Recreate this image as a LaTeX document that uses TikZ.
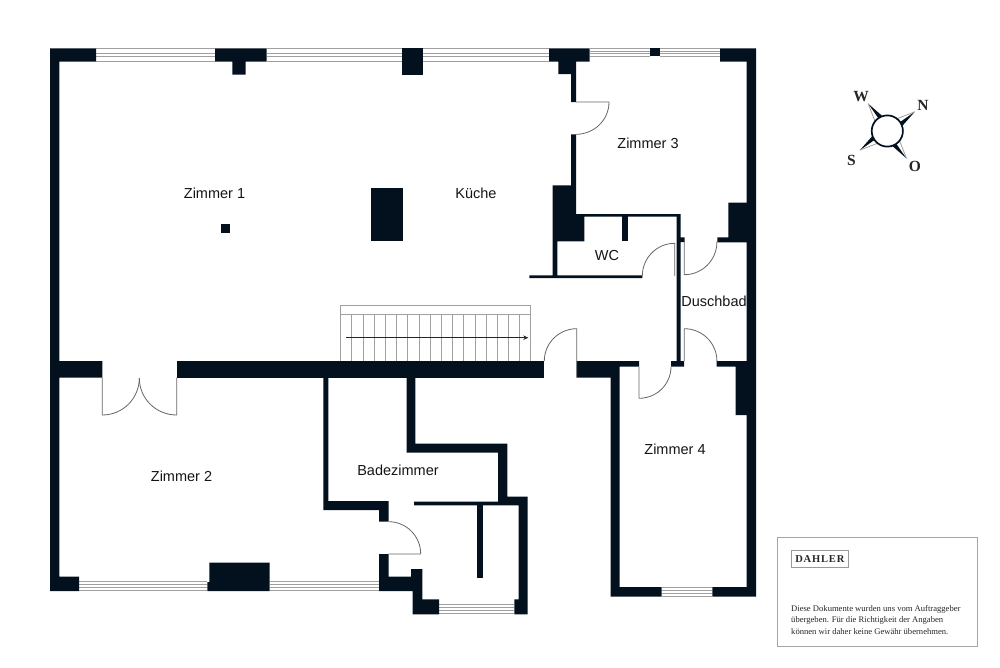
\documentclass[tikz,border=0pt]{standalone}
\usetikzlibrary{arrows.meta}
\usepackage{fontspec}
\setmainfont{Liberation Sans}
\newfontfamily\legendfont{Liberation Serif}
\newfontfamily\dahlerfont[LetterSpace=8]{Liberation Serif}
\definecolor{wallblue}{HTML}{03101E}
\definecolor{linegray}{HTML}{A0A0A0}
\definecolor{doorgray}{HTML}{666666}
\tikzset{
  wall/.style={fill=wallblue},
  windowline/.style={draw=linegray, line width=0.9pt},
  doorline/.style={draw=doorgray, line width=0.8pt},
  stairline/.style={draw=linegray, line width=0.6pt},
  roomlabel/.style={font=\fontsize{14.5}{16}\selectfont, text=black!92, inner sep=0pt},
  compassletter/.style={font=\legendfont\bfseries\fontsize{15.5}{15.5}\selectfont, text=black!85, inner sep=0pt},
}
\newcommand{\fenster}[4]{
  \foreach \f in {0,0.37,0.63,1}
    \draw[windowline] (#1,{#3+\f*(#4-#3)}) -- (#2,{#3+\f*(#4-#3)});
}
\begin{document}
\begin{tikzpicture}[x=1pt, y=-1pt]
  \useasboundingbox (0,0) rectangle (1000,667);
  % windows
  \fenster{96}{215}{48.5}{61.5}
  \fenster{266.7}{401.7}{48.5}{61.5}
  \fenster{422.7}{549}{48.5}{61.5}
  \fenster{589.7}{650}{48.5}{56}
  \fenster{660}{720}{48.5}{56}
  \fenster{79}{207.3}{581}{590.7}
  \fenster{269.7}{379}{581}{590.7}
  \fenster{439}{514.3}{604.3}{613.8}
  \fenster{661.7}{712.3}{587}{596.5}
  % walls
  \fill[wall] (50,48.3) -- (96,48.3) -- (96,61.7) -- (59.4,61.7) -- (59.4,361) -- (102.3,361) -- (102.3,377.5) -- (59.4,377.5) -- (59.4,576.7) -- (79,576.7) -- (79,591) -- (50,591) -- cycle;
  \fill[wall] (176.7,361) -- (544.3,361) -- (544.3,377.5) -- (176.7,377.5) -- cycle;
  \fill[wall] (215,48.3) -- (266.7,48.3) -- (266.7,61.7) -- (245.7,61.7) -- (245.7,74.7) -- (232.3,74.7) -- (232.3,61.7) -- (215,61.7) -- cycle;
  \fill[wall] (401.7,48.3) rectangle (422.7,74.7);
  \fill[wall] (549,48.3) -- (589.7,48.3) -- (589.7,61.7) -- (576,61.7) -- (576,102) -- (571,102) -- (571,74) -- (558.3,74) -- (558.3,61.7) -- (549,61.7) -- cycle;
  \fill[wall] (650,48.3) rectangle (660,56);
  \fill[wall] (571,134.3) -- (576,134.3) -- (576,214) -- (680.7,214) -- (680.7,237.3) -- (684.7,237.3) -- (684.7,242) -- (680.7,242) -- (680.7,361) -- (684,361) -- (684,366.7) -- (671,366.7) -- (671,361) -- (676.7,361) -- (676.7,216.7) -- (584.3,216.7) -- (584.3,241.3) -- (557.3,241.3) -- (557.3,275.3) -- (642.3,275.3) -- (642.3,278) -- (529.3,278) -- (529.3,275.3) -- (552.7,275.3) -- (552.7,185.3) -- (571,185.3) -- cycle;
  \fill[wall] (622.3,216) rectangle (628,241.3);
  \fill[wall] (720,48.3) -- (756,48.3) -- (756,596.7) -- (712.3,596.7) -- (712.3,587) -- (746.7,587) -- (746.7,415) -- (735.7,415) -- (735.7,366.7) -- (716.7,366.7) -- (716.7,361) -- (746.7,361) -- (746.7,242.3) -- (717.3,242.3) -- (717.3,237.3) -- (728.3,237.3) -- (728.3,202.7) -- (746.7,202.7) -- (746.7,61.7) -- (720,61.7) -- cycle;
  \fill[wall] (576.7,361) -- (639,361) -- (639,366.7) -- (619.5,366.7) -- (619.5,587) -- (661.7,587) -- (661.7,596.7) -- (610.5,596.7) -- (610.5,377.7) -- (576.7,377.7) -- cycle;
  \fill[wall] (323.3,377) -- (328.3,377) -- (328.3,501) -- (388.7,501) -- (388.7,521.7) -- (379,521.7) -- (379,510) -- (323.3,510) -- cycle;
  \fill[wall] (406.7,377) -- (415.3,377) -- (415.3,443.7) -- (507.3,443.7) -- (507.3,496.7) -- (527.7,496.7) -- (527.7,614.3) -- (514.3,614.3) -- (514.3,599.3) -- (518.7,599.3) -- (518.7,505.3) -- (414,505.3) -- (414,501.7) -- (498,501.7) -- (498,452.7) -- (406.7,452.7) -- cycle;
  \fill[wall] (477.3,505) rectangle (483.3,578);
  \fill[wall] (379,554) -- (388.7,554) -- (388.7,576.7) -- (411,576.7) -- (411,569) -- (422.3,569) -- (422.3,599.3) -- (439,599.3) -- (439,614.3) -- (412.7,614.3) -- (412.7,591) -- (379,591) -- cycle;
  \fill[wall] (209.3,562.7) -- (269.7,562.7) -- (269.7,591) -- (207.3,591) -- (207.3,582) -- (209.3,582) -- cycle;
  % pillars
  \fill[wall] (220.7,224) rectangle (230.3,233.3);
  \fill[wall] (370.7,187.7) rectangle (403.3,241);
  % doors
  \draw[doorline] (576,102) -- (609,102) to[out=-90, in=0] (576,134.3);
  \draw[doorline] (674.7,276) -- (674.7,243.3) to[out=180, in=90] (642.3,276);
  \draw[doorline] (716.9,242) to[out=-90, in=0] (684.3,274.7) -- (684.3,242);
  \draw[doorline] (684.3,361) -- (684.3,328.7) to[out=0, in=90] (716.9,361);
  \draw[doorline] (576.7,377.5) -- (576.7,328.7) to[out=180, in=90] (544.3,361);
  \draw[doorline] (671,366.7) to[out=-90, in=0] (639,398.3) -- (639,366.7);
  \draw[doorline] (102.3,377.5) -- (102.3,415) to[out=0, in=-90] (139.3,378);
  \draw[doorline] (176.7,377.5) -- (176.7,415) to[out=180, in=-90] (139.3,378);
  \draw[doorline] (388.7,521.7) to[out=0, in=90] (420.7,554) -- (388.7,554);
  % stairs
  \draw[stairline] (340.7,361) -- (340.7,305) -- (530.7,305) -- (530.7,361);
  \draw[stairline] (340.7,314.3) -- (530.7,314.3);
  \foreach \s in {0,...,15}
    \draw[stairline] ({351.7+\s*11.2},314.3) -- ({351.7+\s*11.2},361);
  \draw[line width=0.8pt, black!85, -{Stealth[length=5pt, width=4.5pt]}] (346,337.7) -- (528.3,337.7);
  % room names
  \node[roomlabel] (zimmer1) at (214.5,193) {Zimmer 1};
  \node[roomlabel] (kueche) at (476,193) {Küche};
  \node[roomlabel] (zimmer3) at (648,143.5) {Zimmer 3};
  \node[roomlabel] (wc) at (607,256) {WC};
  \node[roomlabel] (duschbad) at (714,301) {Duschbad};
  \node[roomlabel] (zimmer2) at (181.5,476.5) {Zimmer 2};
  \node[roomlabel] (badezimmer) at (398,470) {Badezimmer};
  \node[roomlabel] (zimmer4) at (675,449) {Zimmer 4};
  % compass
  \foreach \a in {35,125,215,305} {
    \begin{scope}[shift={(887.3,131)}, rotate=\a]
      \fill[wallblue] (33.5,0) -- (15,4.5) -- (15,0) -- cycle;
      \draw[linegray, line width=0.8pt] (33.5,0) -- (15,-4.5);
    \end{scope}
  }
  \draw[wallblue, line width=1.7pt, fill=white] (887.3,131) circle [radius=15.6pt];
  \node[compassletter] (west) at (861,96.5) {W};
  \node[compassletter] (north) at (923,105) {N};
  \node[compassletter] (south) at (851.5,160) {S};
  \node[compassletter] (east) at (915,166.5) {O};
  % legend
  \draw[draw=black!35, line width=0.9pt] (777.3,537.3) rectangle (977.7,646.7);
  \node[draw=black!40, line width=0.7pt, minimum width=57pt, minimum height=17pt, inner sep=0pt, font=\dahlerfont\bfseries\fontsize{10.5}{10.5}\selectfont, text=black!85] (dahler) at (819.8,559.2) {DAHLER};
  \node[anchor=north west, inner sep=0pt, align=left, text=black!85, font=\legendfont\fontsize{8.6}{11.2}\selectfont] (hinweis) at (791,605.5) {Diese Dokumente wurden uns vom Auftraggeber\\übergeben. Für die Richtigkeit der Angaben\\können wir daher keine Gewähr übernehmen.};
\end{tikzpicture}
\end{document}
